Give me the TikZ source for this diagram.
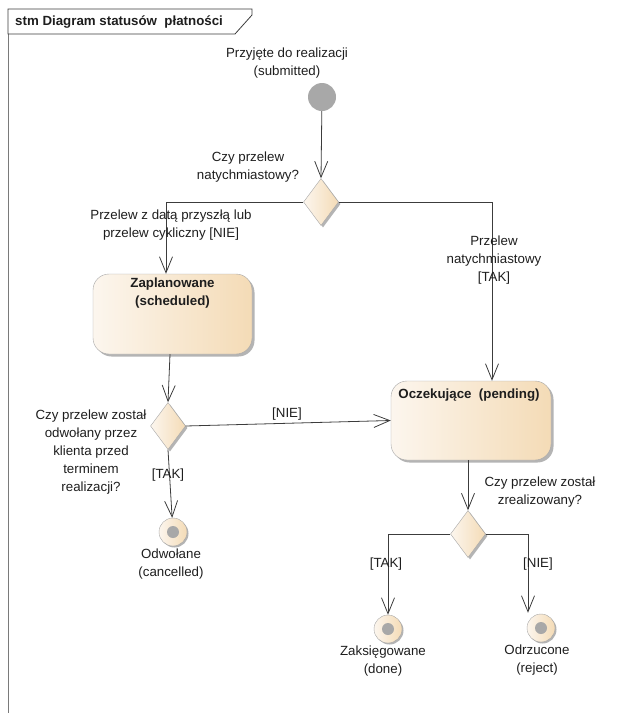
\documentclass[tikz,border=0pt]{standalone}
\usepackage{fontspec}
\setmainfont{Liberation Sans}
\usepackage{xcolor}
\usetikzlibrary{arrows.meta,shapes.geometric,shadows,positioning}

\definecolor{stline}{HTML}{3C3C3C}
\definecolor{sttext}{HTML}{1E1E1E}
\definecolor{stborder}{HTML}{A6A6A6}
\definecolor{stfillA}{HTML}{FCF6EE}
\definecolor{stfillB}{HTML}{F4DBB6}
\definecolor{stshadow}{HTML}{B4B4B4}
\definecolor{stinit}{HTML}{A8A8A8}
\definecolor{stframe}{HTML}{7A7A7A}

\begin{document}
\begin{tikzpicture}[x=1pt, y=-1pt,
                        every node/.style={font=\fontsize{13.3}{18}\selectfont, text=sttext, align=center, inner sep=0pt},
                        title/.style={font=\fontsize{13.3}{18}\selectfont\bfseries},
                        arr/.style={draw=stline, line width=0.8pt, -{Straight Barb[length=16pt,width=13pt]}},
                        state/.style={rectangle, rounded corners=16pt, draw=stborder, left color=stfillA, right color=stfillB,
                            drop shadow={shadow xshift=2.5pt, shadow yshift=-2.5pt, fill=stshadow, opacity=1}},
                        choice/.style={diamond, draw=stborder, left color=stfillA, right color=stfillB,
                            minimum width=35pt, minimum height=47pt,
                            drop shadow={shadow xshift=2pt, shadow yshift=-2pt, fill=stshadow, opacity=1}},
                        final/.style={circle, draw=stborder, left color=stfillA, right color=stfillB, minimum size=28pt,
                            drop shadow={shadow xshift=1.5pt, shadow yshift=-1.5pt, fill=stshadow, opacity=1},
                            path picture={\fill[stinit] (path picture bounding box.center) circle (6pt);}}]
                        \useasboundingbox (0,0) rectangle (617,713);

                        % frame
                        \draw[stframe, line width=1pt] (8,713) -- (8,34);
                        \draw[stline, line width=0.8pt] (8,34) -- (8,9) -- (252,9) -- (252,15) -- (235,34) -- cycle;
                        \node [title, anchor=west] (title) at (15,22) {stm Diagram statusów\ \ płatności};

                        % states
                        \node [circle, fill=stinit, minimum size=28pt] (init) at (322,97) {};
                        \node (initlbl) at (287,63) {Przyjęte do realizacji\\(submitted)};

                        \node [choice] (d1) at (321,202) {};
                        \node (d1lbl) at (248,167) {Czy przelew\\natychmiastowy?};

                        \node [state, minimum width=159pt, minimum height=80pt] (sched) at (172.5,314) {};
                        \node [title, below=4pt of sched.north] (schedlbl) {Zaplanowane\\(scheduled)};

                        \node [state, minimum width=160pt, minimum height=79pt] (pend) at (471,420.5) {};
                        \node [title] (pendlbl) at (469,395) {Oczekujące\ \ (pending)};

                        \node [choice] (d2) at (168,426) {};
                        \node (d2lbl) at (91,452) {Czy przelew został\\odwołany przez\\klienta przed\\terminem\\realizacji?};

                        \node [final] (fin1) at (173,532) {};
                        \node (fin1lbl) at (171,564) {Odwołane\\(cancelled)};

                        \node [choice] (d3) at (468,534) {};
                        \node (d3lbl) at (540,492) {Czy przelew został\\zrealizowany?};

                        \node [final] (fin2) at (388,629) {};
                        \node (fin2lbl) at (383,661) {Zaksięgowane\\(done)};
                        \node [final] (fin3) at (541,628) {};
                        \node (fin3lbl) at (537,660) {Odrzucone\\(reject)};

                        % transitions
                        \draw[arr] (init) -- (d1.north);
                        \draw[arr] (d1.west) -| ([xshift=-6.5pt]sched.north);
                        \draw[arr] (d1.east) -| ([xshift=21pt]pend.north);
                        \draw[arr] ([xshift=-2.5pt]sched.south) -- (d2.north);
                        \draw[arr] (d2.east) -- (pend.west);
                        \draw[arr] (d2.south) -- (fin1);
                        \draw[arr] ([xshift=-3pt]pend.south) -- (d3.north);
                        \draw[arr] (d3.west) -| (fin2.north);
                        \draw[arr] (d3.east) -| ([xshift=-13pt,yshift=1pt]fin3.north);

                        % guards
                        \node (g1) at (171,225) {Przelew z datą przyszłą lub\\przelew cykliczny [NIE]};
                        \node (g2) at (494,260) {Przelew\\natychmiastowy\\{[TAK]}};
                        \node (g3) at (287,414) {[NIE]};
                        \node (g4) at (168,475) {[TAK]};
                        \node (g5) at (386,564) {[TAK]};
                        \node (g6) at (538,564) {[NIE]};
                    \end{tikzpicture}
\end{document}
